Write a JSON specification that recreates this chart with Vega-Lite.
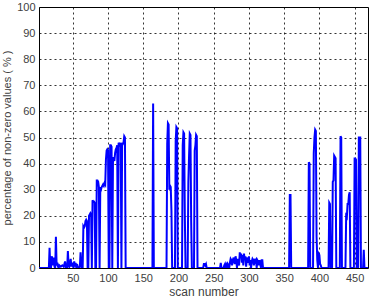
{
  "$schema": "https://vega.github.io/schema/vega-lite/v6.json",
  "width": 329,
  "height": 261,
  "autosize": {"type": "none"},
  "padding": {"left": 39, "top": 7, "right": 4, "bottom": 30},
  "background": "white",
  "config": {
    "view": {"stroke": "#000", "strokeWidth": 1},
    "font": "Liberation Sans",
    "axis": {
      "labelFont": "Liberation Sans",
      "titleFont": "Liberation Sans",
      "labelFontSize": 11,
      "titleFontSize": 12,
      "titleFontWeight": "normal",
      "labelColor": "#404040",
      "titleColor": "#404040",
      "ticks": false,
      "domain": false,
      "gridColor": "#000",
      "gridDash": [2, 3],
      "gridWidth": 1,
      "gridOpacity": 0.8
    }
  },
  "data": {"values": [
    {"scan": 2, "pct": 0}, {"scan": 16, "pct": 0}, {"scan": 17, "pct": 7.7}, {"scan": 18, "pct": 0.5}, {"scan": 19, "pct": 0},
    {"scan": 20, "pct": 4.5}, {"scan": 21, "pct": 3.5}, {"scan": 22, "pct": 1}, {"scan": 23, "pct": 4}, {"scan": 24, "pct": 0.5},
    {"scan": 25, "pct": 0}, {"scan": 26, "pct": 12}, {"scan": 27, "pct": 1}, {"scan": 28, "pct": 2}, {"scan": 29, "pct": 0.5},
    {"scan": 30, "pct": 0}, {"scan": 31, "pct": 1}, {"scan": 33, "pct": 0.5}, {"scan": 35, "pct": 1}, {"scan": 37, "pct": 0.5},
    {"scan": 39, "pct": 2.5}, {"scan": 40, "pct": 0.5}, {"scan": 41, "pct": 1}, {"scan": 42, "pct": 0}, {"scan": 43, "pct": 6.5},
    {"scan": 44, "pct": 1}, {"scan": 45, "pct": 0.5}, {"scan": 47, "pct": 3.5}, {"scan": 48, "pct": 0.5}, {"scan": 49, "pct": 2},
    {"scan": 50, "pct": 1}, {"scan": 51, "pct": 0}, {"scan": 52, "pct": 2.5}, {"scan": 53, "pct": 0.5}, {"scan": 54, "pct": 2},
    {"scan": 55, "pct": 0}, {"scan": 56, "pct": 1.5}, {"scan": 57, "pct": 0.5}, {"scan": 59, "pct": 0}, {"scan": 60, "pct": 0.5},
    {"scan": 61, "pct": 6}, {"scan": 62, "pct": 1}, {"scan": 63, "pct": 0}, {"scan": 64, "pct": 0},
    {"scan": 65, "pct": 16}, {"scan": 66, "pct": 15.5}, {"scan": 67, "pct": 16}, {"scan": 68, "pct": 18}, {"scan": 69, "pct": 18.5},
    {"scan": 70, "pct": 18}, {"scan": 71, "pct": 0}, {"scan": 72, "pct": 0}, {"scan": 73, "pct": 20}, {"scan": 74, "pct": 20.5},
    {"scan": 75, "pct": 21}, {"scan": 76, "pct": 20.5}, {"scan": 77, "pct": 0}, {"scan": 78, "pct": 26}, {"scan": 79, "pct": 25.5},
    {"scan": 80, "pct": 25.5}, {"scan": 81, "pct": 25}, {"scan": 82, "pct": 0}, {"scan": 83, "pct": 0}, {"scan": 84, "pct": 33.5},
    {"scan": 85, "pct": 33.5}, {"scan": 86, "pct": 33}, {"scan": 87, "pct": 31}, {"scan": 88, "pct": 0}, {"scan": 89, "pct": 31},
    {"scan": 90, "pct": 30}, {"scan": 91, "pct": 31}, {"scan": 92, "pct": 31.5}, {"scan": 93, "pct": 32}, {"scan": 94, "pct": 31.5},
    {"scan": 95, "pct": 32.5}, {"scan": 96, "pct": 32}, {"scan": 97, "pct": 41.5}, {"scan": 98, "pct": 45}, {"scan": 99, "pct": 45.5},
    {"scan": 100, "pct": 45}, {"scan": 101, "pct": 0}, {"scan": 102, "pct": 0}, {"scan": 103, "pct": 47}, {"scan": 104, "pct": 47},
    {"scan": 105, "pct": 46.5}, {"scan": 106, "pct": 0}, {"scan": 107, "pct": 40.5}, {"scan": 108, "pct": 42.5}, {"scan": 109, "pct": 41},
    {"scan": 110, "pct": 44}, {"scan": 111, "pct": 45.5}, {"scan": 112, "pct": 46}, {"scan": 113, "pct": 47}, {"scan": 114, "pct": 0},
    {"scan": 115, "pct": 48}, {"scan": 116, "pct": 47.5}, {"scan": 117, "pct": 47}, {"scan": 118, "pct": 48}, {"scan": 119, "pct": 0},
    {"scan": 120, "pct": 48}, {"scan": 121, "pct": 47.5}, {"scan": 122, "pct": 48}, {"scan": 123, "pct": 50.5}, {"scan": 124, "pct": 50},
    {"scan": 125, "pct": 0},
    {"scan": 163, "pct": 0}, {"scan": 164, "pct": 63}, {"scan": 165, "pct": 0},
    {"scan": 183, "pct": 0}, {"scan": 184, "pct": 47.5}, {"scan": 185, "pct": 55.5}, {"scan": 186, "pct": 55}, {"scan": 187, "pct": 30},
    {"scan": 188, "pct": 31.5}, {"scan": 189, "pct": 31}, {"scan": 190, "pct": 22}, {"scan": 191, "pct": 0}, {"scan": 195, "pct": 0},
    {"scan": 196, "pct": 48.5}, {"scan": 197, "pct": 54}, {"scan": 198, "pct": 53.5}, {"scan": 199, "pct": 0},
    {"scan": 205, "pct": 0}, {"scan": 206, "pct": 47}, {"scan": 207, "pct": 52}, {"scan": 208, "pct": 51.5}, {"scan": 209, "pct": 20},
    {"scan": 210, "pct": 0}, {"scan": 213, "pct": 0}, {"scan": 214, "pct": 33}, {"scan": 215, "pct": 43}, {"scan": 216, "pct": 51.5},
    {"scan": 217, "pct": 51}, {"scan": 218, "pct": 18}, {"scan": 219, "pct": 0}, {"scan": 222, "pct": 0}, {"scan": 223, "pct": 45},
    {"scan": 224, "pct": 47}, {"scan": 225, "pct": 51}, {"scan": 226, "pct": 50.5}, {"scan": 227, "pct": 0},
    {"scan": 235, "pct": 0}, {"scan": 236, "pct": 1.5}, {"scan": 237, "pct": 1.5}, {"scan": 238, "pct": 1}, {"scan": 239, "pct": 1.5}, {"scan": 240, "pct": 0},
    {"scan": 259, "pct": 0}, {"scan": 260, "pct": 2}, {"scan": 261, "pct": 0}, {"scan": 264, "pct": 0}, {"scan": 265, "pct": 1},
    {"scan": 266, "pct": 1.5}, {"scan": 267, "pct": 0}, {"scan": 268, "pct": 1}, {"scan": 269, "pct": 0}, {"scan": 270, "pct": 1.5},
    {"scan": 271, "pct": 1}, {"scan": 272, "pct": 0}, {"scan": 273, "pct": 2}, {"scan": 274, "pct": 3.5}, {"scan": 275, "pct": 3},
    {"scan": 276, "pct": 1}, {"scan": 277, "pct": 2.5}, {"scan": 278, "pct": 4}, {"scan": 279, "pct": 3}, {"scan": 280, "pct": 1.5},
    {"scan": 281, "pct": 4.5}, {"scan": 282, "pct": 3}, {"scan": 283, "pct": 0}, {"scan": 284, "pct": 3.5}, {"scan": 285, "pct": 2},
    {"scan": 286, "pct": 1}, {"scan": 287, "pct": 6}, {"scan": 288, "pct": 4}, {"scan": 289, "pct": 5.5}, {"scan": 290, "pct": 2},
    {"scan": 291, "pct": 5}, {"scan": 292, "pct": 1}, {"scan": 293, "pct": 5.5}, {"scan": 294, "pct": 3}, {"scan": 295, "pct": 4.5},
    {"scan": 296, "pct": 0.5}, {"scan": 297, "pct": 3}, {"scan": 298, "pct": 4}, {"scan": 299, "pct": 2}, {"scan": 300, "pct": 4.5},
    {"scan": 301, "pct": 1}, {"scan": 302, "pct": 3}, {"scan": 303, "pct": 0}, {"scan": 304, "pct": 2.5}, {"scan": 305, "pct": 3.5},
    {"scan": 306, "pct": 3}, {"scan": 307, "pct": 1}, {"scan": 308, "pct": 3.5}, {"scan": 309, "pct": 2.5}, {"scan": 310, "pct": 3},
    {"scan": 311, "pct": 0}, {"scan": 312, "pct": 3}, {"scan": 313, "pct": 2.5}, {"scan": 314, "pct": 1}, {"scan": 315, "pct": 3},
    {"scan": 316, "pct": 2}, {"scan": 317, "pct": 0}, {"scan": 318, "pct": 3}, {"scan": 319, "pct": 3}, {"scan": 320, "pct": 0},
    {"scan": 357, "pct": 0}, {"scan": 358, "pct": 28}, {"scan": 359, "pct": 28}, {"scan": 360, "pct": 0},
    {"scan": 384, "pct": 0}, {"scan": 385, "pct": 40.5}, {"scan": 386, "pct": 40}, {"scan": 387, "pct": 0},
    {"scan": 391, "pct": 0}, {"scan": 392, "pct": 44}, {"scan": 393, "pct": 50}, {"scan": 394, "pct": 53}, {"scan": 395, "pct": 52.5},
    {"scan": 396, "pct": 12}, {"scan": 397, "pct": 3}, {"scan": 398, "pct": 0}, {"scan": 399, "pct": 5.5}, {"scan": 400, "pct": 5},
    {"scan": 401, "pct": 1.5}, {"scan": 402, "pct": 1}, {"scan": 403, "pct": 0},
    {"scan": 413, "pct": 0}, {"scan": 414, "pct": 25}, {"scan": 415, "pct": 24.5}, {"scan": 416, "pct": 0}, {"scan": 418, "pct": 0},
    {"scan": 419, "pct": 33}, {"scan": 420, "pct": 33.5}, {"scan": 421, "pct": 43}, {"scan": 422, "pct": 42.5}, {"scan": 423, "pct": 42},
    {"scan": 424, "pct": 0}, {"scan": 429, "pct": 0}, {"scan": 430, "pct": 50.5}, {"scan": 431, "pct": 50}, {"scan": 432, "pct": 0},
    {"scan": 437, "pct": 0}, {"scan": 438, "pct": 20}, {"scan": 439, "pct": 19.5}, {"scan": 440, "pct": 24.5}, {"scan": 441, "pct": 24.5},
    {"scan": 442, "pct": 28}, {"scan": 443, "pct": 29}, {"scan": 444, "pct": 0},
    {"scan": 449, "pct": 0}, {"scan": 450, "pct": 42}, {"scan": 451, "pct": 42}, {"scan": 452, "pct": 41.5}, {"scan": 453, "pct": 0},
    {"scan": 455, "pct": 0}, {"scan": 456, "pct": 50}, {"scan": 457, "pct": 50}, {"scan": 458, "pct": 50}, {"scan": 459, "pct": 0},
    {"scan": 462, "pct": 0}, {"scan": 463, "pct": 7}, {"scan": 464, "pct": 0}, {"scan": 469, "pct": 0}
  ]},
  "mark": {"type": "line", "color": "#0000ff", "strokeWidth": 2, "clip": true},
  "encoding": {
    "x": {
      "field": "scan", "type": "quantitative",
      "scale": {"domain": [2, 469], "nice": false, "zero": false},
      "axis": {"values": [50, 100, 150, 200, 250, 300, 350, 400, 450], "title": "scan number", "labelPadding": 4, "titlePadding": 3}
    },
    "y": {
      "field": "pct", "type": "quantitative",
      "scale": {"domain": [0, 100], "nice": false},
      "axis": {"values": [0, 10, 20, 30, 40, 50, 60, 70, 80, 90, 100], "title": "percentage of non-zero values ( % )", "titleFontSize": 11, "labelPadding": 4, "titlePadding": 4}
    }
  }
}
